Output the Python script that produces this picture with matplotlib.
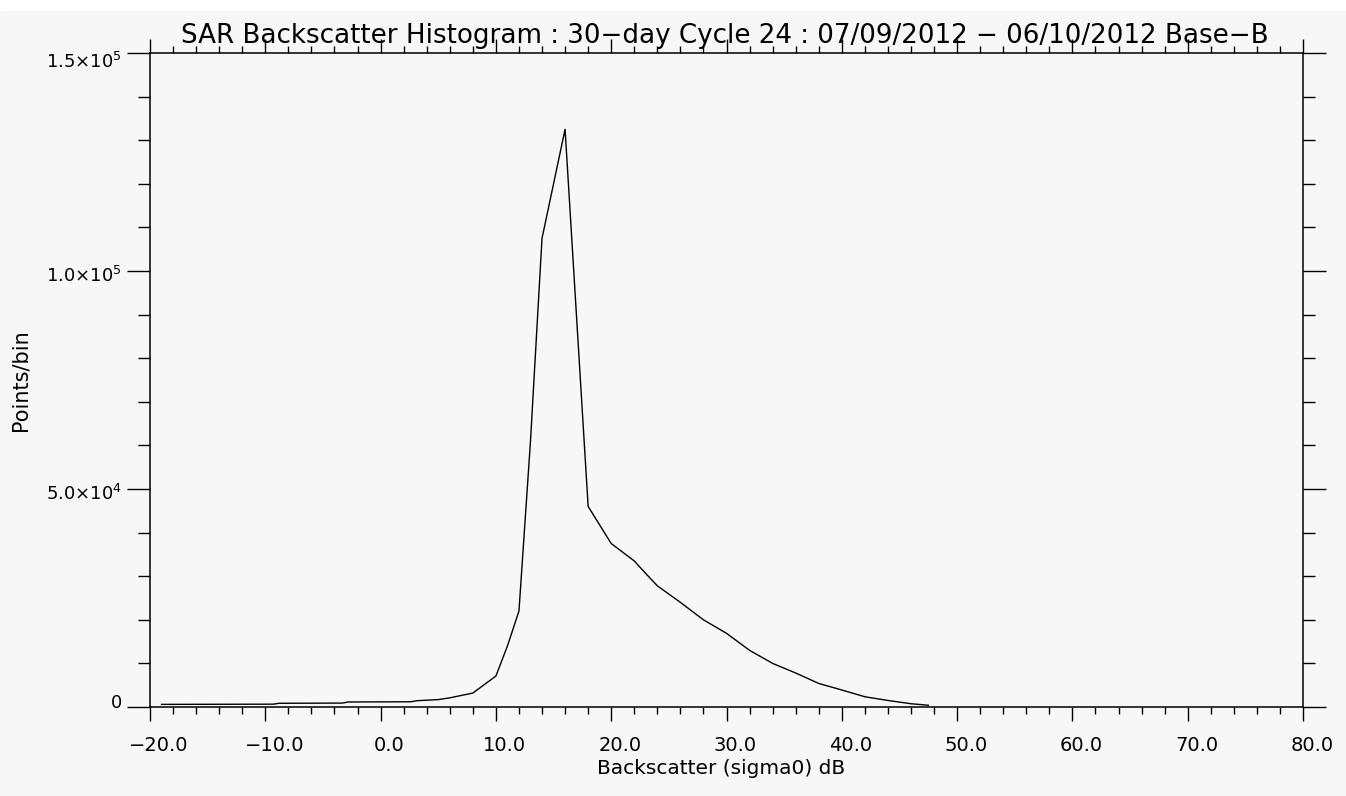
import matplotlib
matplotlib.use('Agg')
import matplotlib.pyplot as plt
from matplotlib.ticker import MultipleLocator, FixedLocator
from matplotlib.patches import Rectangle
from matplotlib.transforms import ScaledTranslation

# histogram (dB, points per bin)
backscatter_db = [-19, -9.3, -8.8, -3.3, -2.8, 2.6, 3.2, 5, 6, 8, 10, 11, 12, 13, 14, 15, 16,
                  18, 20, 22, 23, 24, 26, 28, 30, 32, 34, 36, 38, 40, 42, 44, 46, 47.5]
points_per_bin = [600, 650, 850, 900, 1150, 1200, 1450, 1700, 2100, 3200, 7100, 14000, 22000,
                  61000, 107500, 120000, 132500, 46000, 37500, 33500, 30600, 27800, 24000, 20000,
                  16900, 13000, 10000, 7800, 5400, 3900, 2350, 1500, 750, 400]

x_major = [-20, -10, 0, 10, 20, 30, 40, 50, 60, 70, 80]
y_major = [0, 50000, 100000, 150000]
y_labels = ['0', r'5.0$\times$10$^4$', r'1.0$\times$10$^5$', r'1.5$\times$10$^5$']

title = 'SAR Backscatter Histogram : 30\u2212day Cycle 24 : 07/09/2012 \u2212 06/10/2012 Base\u2212B'

W, H = 1346, 796
bg = '#f7f7f7'
fig = plt.figure(figsize=(W/100, H/100), dpi=100, facecolor=bg)
fig.add_artist(Rectangle((0, 1-10/H), 1, 10/H, transform=fig.transFigure, color='white', zorder=-1))

ax = fig.add_axes([150/W, 89/H, 1153/W, 654/H])
ax.set_facecolor(bg)
ax.plot(backscatter_db, points_per_bin, color='black', lw=1.0)

ax.set_xlim(-20, 80)
ax.set_ylim(0, 150000)
ax.xaxis.set_major_locator(FixedLocator(x_major))
ax.xaxis.set_minor_locator(MultipleLocator(2))
ax.set_xticklabels([('%.1f' % v).replace('-', '\u2212') for v in x_major])
ax.yaxis.set_major_locator(FixedLocator(y_major))
ax.yaxis.set_minor_locator(MultipleLocator(10000))
ax.set_yticklabels(y_labels)

for s in ax.spines.values():
    s.set_linewidth(1.1)
ax.tick_params(axis='both', which='both', direction='out', top=True, right=True,
               labeltop=False, labelright=False, width=1.0)
ax.tick_params(axis='x', which='major', length=10, pad=11, labelsize=14)
ax.tick_params(axis='x', which='minor', length=5)
ax.tick_params(axis='y', which='major', length=16.5, pad=3.5, labelsize=13)
ax.tick_params(axis='y', which='minor', length=8.5)

# IDL puts the x labels a little right of the tick
shift = ScaledTranslation(9/100, 0, fig.dpi_scale_trans)
for t in ax.xaxis.get_major_ticks():
    t.label1.set_transform(t.label1.get_transform() + shift)
# and the end y labels are pulled inside the axis range
for t, dy in zip(ax.yaxis.get_major_ticks(), [6, -3, -3, -7]):
    t.label1.set_transform(t.label1.get_transform() + ScaledTranslation(0, dy/100, fig.dpi_scale_trans))

ax.set_xlabel('Backscatter (sigma0) dB', fontsize=14.5, va='center')
ax.xaxis.set_label_coords((721-150)/1153, -(769-707)/654)
ax.set_ylabel('Points/bin', fontsize=15, va='center')
ax.yaxis.set_label_coords((21-150)/1153, 0.5)

fig.text(725/W, 1-43/H, title, fontsize=18.8, ha='center', va='baseline')

fig.savefig('out.png', dpi=100, facecolor=bg)
